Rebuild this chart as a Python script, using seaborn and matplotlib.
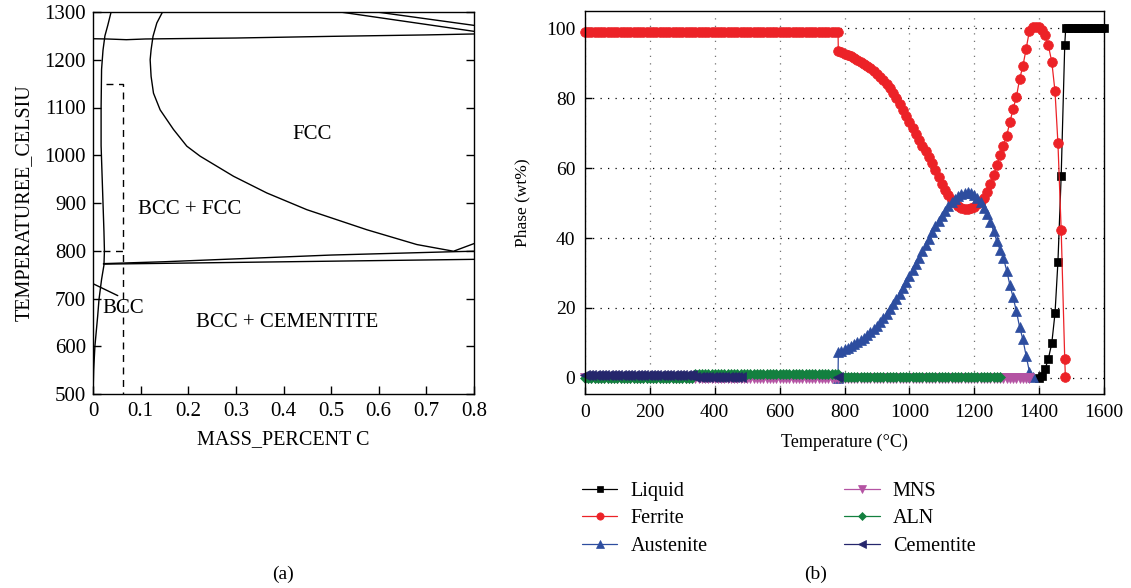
import pandas as pd
import seaborn as sns
import matplotlib.pyplot as plt

sns.set_style("ticks")
plt.rcParams["font.family"] = ["Liberation Serif", "DejaVu Serif"]
plt.rcParams["font.size"] = 14
for key in ["text.color", "axes.labelcolor", "xtick.color", "ytick.color", "axes.edgecolor"]:
    plt.rcParams[key] = "black"

# ---------------- (a) Fe-C section, boundaries (wt% C, deg C)
bcc_c = [0.0, 0.0014, 0.004, 0.0098, 0.0126, 0.018, 0.023, 0.024, 0.023, 0.021,
         0.019, 0.017, 0.017, 0.018, 0.021, 0.025, 0.031, 0.038]
bcc_t = [500, 550, 600, 663, 698, 740, 770, 800, 840, 900,
         960, 1020, 1100, 1180, 1220, 1250, 1272, 1300]

delta_c = [0.0, 0.03, 0.07, 0.11, 0.2, 0.3, 0.5, 0.7, 0.8]
delta_t = [1244, 1243.5, 1242, 1243.5, 1244.5, 1245.5, 1249, 1252, 1254]

fcc_c = [0.146, 0.134, 0.126, 0.122, 0.120, 0.122, 0.127, 0.141, 0.169, 0.197,
         0.225, 0.295, 0.365, 0.449, 0.575, 0.680, 0.757, 0.8]
fcc_t = [1300, 1277, 1249, 1221, 1200, 1165, 1130, 1095, 1054, 1019,
         998, 956, 921, 886, 844, 813, 799, 815]

upper_c = [0.022, 0.15, 0.3, 0.5, 0.757, 0.8]
upper_t = [773, 777, 783, 791, 798, 799]

lower_c = [0.022, 0.8]
lower_t = [772, 782]

short_c = [0.0, 0.052]
short_t = [731, 706]

topa_c = [0.519, 0.8]
topa_t = [1300, 1259.5]
topb_c = [0.596, 0.8]
topb_t = [1300, 1272]

# dashed path of the alloy
dash1_c = [0.028, 0.063, 0.063]
dash1_t = [1150, 1150, 500]
dash2_c = [0.022, 0.063]
dash2_t = [800, 800]

mass_ticks = [0, 0.1, 0.2, 0.3, 0.4, 0.5, 0.6, 0.7, 0.8]
mass_labels = ["0", "0.1", "0.2", "0.3", "0.4", "0.5", "0.6", "0.7", "0.8"]
temp_ticks_a = [500, 600, 700, 800, 900, 1000, 1100, 1200, 1300]

region_names = ["FCC", "BCC + FCC", "BCC", "BCC + CEMENTITE"]
region_c = [0.461, 0.203, 0.064, 0.407]
region_t = [1043, 886, 680, 649]

# ---------------- (b) phase fractions vs temperature
liquid_temp = [1400, 1408, 1418, 1428, 1439, 1449, 1458, 1468, 1479, 1482] + list(range(1490, 1610, 10))
liquid_wt = [0.0, 0.6, 2.5, 5.3, 9.9, 18.5, 33.2, 57.8, 95.2, 100.0,
             100.0, 100.0, 100.0, 100.0, 100.0, 100.0, 100.0, 100.0, 100.0, 100.0, 100.0, 100.0]

ferrite_temp = (list(range(0, 790, 10)) + [781] + list(range(790, 1410, 10))
                + [1408, 1418, 1428, 1439, 1449, 1458, 1468, 1479, 1481])
ferrite_wt = [
    98.9, 98.9, 98.9, 98.9, 98.9, 98.9, 98.9, 98.9, 98.9, 98.9,
    98.9, 98.9, 98.9, 98.9, 98.9, 98.9, 98.9, 98.9, 98.9, 98.9,
    98.9, 98.9, 98.9, 98.9, 98.9, 98.9, 98.9, 98.9, 98.9, 98.9,
    98.9, 98.9, 98.9, 98.9, 98.9, 98.9, 98.9, 98.9, 98.9, 98.9,
    98.9, 98.9, 98.9, 98.9, 98.9, 98.9, 98.9, 98.9, 98.9, 98.9,
    98.9, 98.9, 98.9, 98.9, 98.9, 98.9, 98.9, 98.9, 98.9, 98.9,
    98.9, 98.9, 98.9, 98.9, 98.9, 98.9, 98.9, 98.9, 98.9, 98.9,
    98.9, 98.9, 98.9, 98.9, 98.9, 98.9, 98.9, 98.9, 98.9,
    93.5,
    93.1, 92.7, 92.3, 91.9, 91.4, 90.9, 90.4, 89.8, 89.2, 88.5,
    87.8, 87.0, 86.1, 85.1, 84.0, 82.8, 81.5, 80.0, 78.4, 76.7,
    75.0, 73.2, 71.4, 69.6, 67.9, 66.3, 64.8, 63.2, 61.4, 59.4,
    57.4, 55.5, 53.8, 52.3, 51.0, 50.0, 49.2, 48.7, 48.4, 48.3,
    48.5, 49.0, 49.7, 50.5, 51.5, 53.2, 55.4, 58.0, 60.9, 63.6,
    66.4, 69.3, 73.2, 77.0, 80.4, 85.5, 89.2, 94.1, 99.2, 100.2,
    100.4, 100.2,
    99.6, 98.1, 95.2, 90.4, 81.9, 67.1, 42.3, 5.3, 0.2,
]

austenite_temp = [780, 781] + list(range(790, 1390, 10))
austenite_wt = [
    0.0, 7.3,
    7.8, 8.2, 8.6, 9.1, 9.6, 10.2, 10.8, 11.5, 12.2, 13.0,
    13.9, 14.9, 16.0, 17.2, 18.4, 19.7, 21.0, 22.5, 24.0, 25.6,
    27.3, 29.0, 30.8, 32.6, 34.4, 36.2, 38.0, 39.8, 41.6, 43.3,
    44.9, 46.4, 47.8, 49.1, 50.2, 51.2, 52.0, 52.6, 53.0, 53.1,
    52.9, 52.3, 51.4, 50.2, 48.7, 46.9, 44.6, 41.9, 39.0, 36.5,
    34.2, 30.7, 26.5, 23.0, 19.0, 14.5, 11.0, 6.3, 1.8, 0.2,
]

mns_temp = list(range(0, 1380, 10))
mns_wt = [
    0.0, 0.0, 0.0, 0.0, 0.0, 0.0, 0.0, 0.0, 0.0, 0.0,
    0.0, 0.0, 0.0, 0.0, 0.0, 0.0, 0.0, 0.0, 0.0, 0.0,
    0.0, 0.0, 0.0, 0.0, 0.0, 0.0, 0.0, 0.0, 0.0, 0.0,
    0.0, 0.0, 0.0, 0.0, 0.0, 0.0, 0.0, 0.0, 0.0, 0.0,
    0.0, 0.0, 0.0, 0.0, 0.0, 0.0, 0.0, 0.0, 0.0, 0.0,
    0.0, 0.0, 0.0, 0.0, 0.0, 0.0, 0.0, 0.0, 0.0, 0.0,
    0.0, 0.0, 0.0, 0.0, 0.0, 0.0, 0.0, 0.0, 0.0, 0.0,
    0.0, 0.0, 0.0, 0.0, 0.0, 0.0, 0.0, 0.0, 0.0, 0.0,
    0.0, 0.0, 0.0, 0.0, 0.0, 0.0, 0.0, 0.0, 0.0, 0.0,
    0.0, 0.0, 0.0, 0.0, 0.0, 0.0, 0.0, 0.0, 0.0, 0.0,
    0.0, 0.0, 0.0, 0.0, 0.0, 0.0, 0.0, 0.0, 0.0, 0.0,
    0.0, 0.0, 0.0, 0.0, 0.0, 0.0, 0.0, 0.0, 0.0, 0.0,
    0.0, 0.0, 0.0, 0.0, 0.0, 0.0, 0.0, 0.0, 0.0, 0.0,
    0.0, 0.0, 0.0, 0.0, 0.0, 0.0, 0.0, 0.0,
]

aln_temp = list(range(0, 1290, 10))
aln_wt = [
    0.0, 0.0, 0.0, 0.0, 0.0, 0.0, 0.0, 0.0, 0.0, 0.0,
    0.0, 0.0, 0.0, 0.0, 0.0, 0.0, 0.0, 0.0, 0.0, 0.0,
    0.0, 0.0, 0.0, 0.0, 0.0, 0.0, 0.0, 0.0, 0.0, 0.0,
    0.0, 0.0, 0.0, 0.0,
    1.0, 1.0, 1.0, 1.0, 1.0, 1.0, 1.0, 1.0, 1.0, 1.0,
    1.0, 1.0, 1.0, 1.0, 1.0, 1.0, 1.0, 1.0, 1.0, 1.0,
    1.0, 1.0, 1.0, 1.0, 1.0, 1.0, 1.0, 1.0, 1.0, 1.0,
    1.0, 1.0, 1.0, 1.0, 1.0, 1.0, 1.0, 1.0, 1.0, 1.0,
    1.0, 1.0, 1.0, 1.0, 1.0,
    0.2, 0.2, 0.2, 0.2, 0.2, 0.2, 0.2, 0.2, 0.2, 0.2,
    0.2, 0.2, 0.2, 0.2, 0.2, 0.2, 0.2, 0.2, 0.2, 0.2,
    0.2, 0.2, 0.2, 0.2, 0.2, 0.2, 0.2, 0.2, 0.2, 0.2,
    0.2, 0.2, 0.2, 0.2, 0.2, 0.2, 0.2, 0.2, 0.2, 0.2,
    0.2, 0.2, 0.2, 0.2, 0.2, 0.2, 0.2, 0.2, 0.2, 0.2,
]

# cementite: band up to 480 C plus a lone point at 780 C
cementite_temp = list(range(0, 490, 10)) + [780]
cementite_wt = [
    0.7, 0.7, 0.7, 0.7, 0.7, 0.7, 0.7, 0.7, 0.7, 0.7,
    0.7, 0.7, 0.7, 0.7, 0.7, 0.7, 0.7, 0.7, 0.7, 0.7,
    0.7, 0.7, 0.7, 0.7, 0.7, 0.7, 0.7, 0.7, 0.7, 0.7,
    0.7, 0.7, 0.7, 0.7,
    0.2, 0.2, 0.2, 0.2, 0.2, 0.2, 0.2, 0.2, 0.2, 0.2,
    0.2, 0.2, 0.2, 0.2, 0.2,
    0.4,
]
cementite_seg = [0] * 49 + [1]

temp_ticks_b = [0, 200, 400, 600, 800, 1000, 1200, 1400, 1600]
wt_ticks = [0, 20, 40, 60, 80, 100]

phase_order = ["Liquid", "Ferrite", "Austenite", "MNS", "ALN", "Cementite"]
phase_style = {
    "Liquid": ("#000000", "s", 5.6),
    "Ferrite": ("#ec2227", "o", 7.0),
    "Austenite": ("#2d4d9f", "^", 7.0),
    "MNS": ("#b453a3", "v", 7.0),
    "ALN": ("#13803f", "D", 5.0),
    "Cementite": ("#25266c", "<", 7.0),
}

# build long-form tables
bounds = pd.concat([
    pd.DataFrame({"c": c, "t": t, "line": name}) for name, c, t in [
        ("bcc", bcc_c, bcc_t), ("delta", delta_c, delta_t), ("fcc", fcc_c, fcc_t),
        ("upper", upper_c, upper_t), ("lower", lower_c, lower_t), ("short", short_c, short_t),
        ("topa", topa_c, topa_t), ("topb", topb_c, topb_t)]
], ignore_index=True)
dashed = pd.concat([
    pd.DataFrame({"c": dash1_c, "t": dash1_t, "line": "d1"}),
    pd.DataFrame({"c": dash2_c, "t": dash2_t, "line": "d2"}),
], ignore_index=True)

phases = pd.concat([
    pd.DataFrame({"temp": liquid_temp, "wt": liquid_wt, "phase": "Liquid", "seg": 0}),
    pd.DataFrame({"temp": ferrite_temp, "wt": ferrite_wt, "phase": "Ferrite", "seg": 0}),
    pd.DataFrame({"temp": austenite_temp, "wt": austenite_wt, "phase": "Austenite", "seg": 0}),
    pd.DataFrame({"temp": mns_temp, "wt": mns_wt, "phase": "MNS", "seg": 0}),
    pd.DataFrame({"temp": aln_temp, "wt": aln_wt, "phase": "ALN", "seg": 0}),
    pd.DataFrame({"temp": cementite_temp, "wt": cementite_wt, "phase": "Cementite", "seg": cementite_seg}),
], ignore_index=True)

W, H = 1131, 588
fig = plt.figure(figsize=(W / 100, H / 100), dpi=100)
ax_a = fig.add_axes([93 / W, 1 - 394 / H, 381 / W, 382 / H])
ax_b = fig.add_axes([585 / W, 1 - 394 / H, 519 / W, 383 / H])

# ---- panel (a)
sns.lineplot(data=bounds, x="c", y="t", units="line", estimator=None, sort=False,
             color="black", linewidth=1.0, legend=False, ax=ax_a)
sns.lineplot(data=dashed, x="c", y="t", units="line", estimator=None, sort=False,
             color="black", linewidth=1.0, linestyle=(0, (5, 4)), legend=False, ax=ax_a)
for name, c, t in zip(region_names, region_c, region_t):
    ax_a.text(c, t, name, ha="center", va="center", fontsize=15)

ax_a.set_xlim(0, 0.8)
ax_a.set_ylim(500, 1300)
ax_a.set_xticks(mass_ticks)
ax_a.set_xticklabels(mass_labels)
ax_a.set_yticks(temp_ticks_a)
ax_a.tick_params(direction="in", length=6, width=1, labelsize=15, right=True, top=False)
ax_a.tick_params(axis="x", pad=6)
ax_a.tick_params(axis="y", pad=5)
ax_a.set_xlabel("MASS_PERCENT C", fontsize=14.5, labelpad=6)
ax_a.set_ylabel("TEMPERATUREE_CELSIU", fontsize=14.5, labelpad=8)
for sp in ax_a.spines.values():
    sp.set_linewidth(1.0)
    sp.set_visible(True)

# ---- panel (b)
ax_b.set_axisbelow(True)
ax_b.xaxis.grid(True, color="0.45", linestyle=(0, (1, 5)), linewidth=0.9)
ax_b.yaxis.grid(True, color="black", linestyle=(0, (1, 5)), linewidth=0.9)
for name in phase_order:
    color, marker, ms = phase_style[name]
    sns.lineplot(data=phases[phases["phase"] == name], x="temp", y="wt", units="seg",
                 estimator=None, sort=False, color=color, marker=marker, markersize=ms,
                 markeredgecolor=color, markeredgewidth=0.5, linewidth=0.9,
                 clip_on=False, label=name, legend=False, ax=ax_b)

ax_b.set_xlim(0, 1600)
ax_b.set_ylim(-4.6, 104.9)
ax_b.set_xticks(temp_ticks_b)
ax_b.set_yticks(wt_ticks)
ax_b.tick_params(direction="in", length=5, width=1, labelsize=14, right=False, top=False)
ax_b.tick_params(axis="x", pad=7)
ax_b.tick_params(axis="y", pad=7)
ax_b.set_xlabel("Temperature (°C)", fontsize=13, labelpad=9)
ax_b.set_ylabel("Phase (wt%)", fontsize=12.5, labelpad=11)
for sp in ax_b.spines.values():
    sp.set_linewidth(1.0)
    sp.set_visible(True)

handles, labels = ax_b.get_legend_handles_labels()
uniq = dict(zip(labels, handles))
fig.legend([uniq[p] for p in phase_order], phase_order, loc="upper left",
           bbox_to_anchor=(582 / W, 1 - 482 / H), ncol=2, frameon=False,
           handlelength=1.75, handletextpad=0.65, columnspacing=6.8,
           labelspacing=0.41, borderpad=0, borderaxespad=0, fontsize=14.5,
           markerscale=0.75)

fig.text(283 / W, 1 - 574 / H, "(a)", ha="center", va="center", fontsize=14)
fig.text(816 / W, 1 - 574 / H, "(b)", ha="center", va="center", fontsize=14)

fig.savefig("out.png", dpi=100)
